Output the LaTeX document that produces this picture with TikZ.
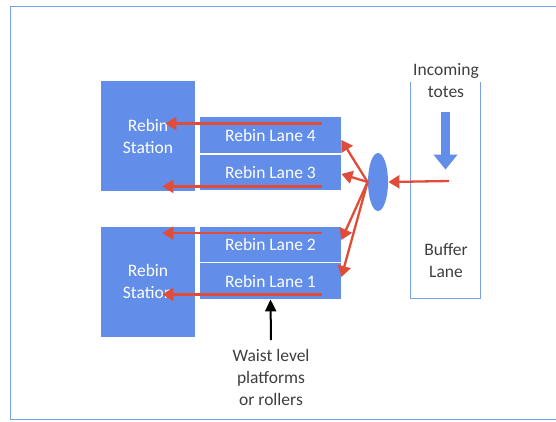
\documentclass[tikz,border=0pt]{standalone}
\usepackage{fontspec}
\setmainfont{Carlito}
\usetikzlibrary{arrows.meta,shapes.geometric}

\begin{document}
\begin{tikzpicture}[x=1pt, y=-1pt, >=Stealth, thick, font=\fontsize{17.5}{22}\selectfont]
        % Colores
        \definecolor{laneblue}{RGB}{98, 141, 232}
        \definecolor{feedred}{RGB}{224, 76, 56}
        \definecolor{frameblue}{RGB}{120, 160, 235}
        \definecolor{notegray}{RGB}{62, 62, 62}

        \tikzset{
            station/.style={fill=laneblue, text=white, minimum width=94pt, minimum height=110pt, align=center, inner sep=0pt},
            lane/.style={fill=laneblue, text=white, minimum width=141pt, minimum height=35pt, inner sep=0pt},
            feed/.style={draw=feedred, line width=2.3pt, -{Triangle[width=13pt,length=11pt]}},
            notetext/.style={text=notegray, align=center}
        }

        \useasboundingbox (0,0) rectangle (556,421);

        % Marco
        \draw[frameblue, line width=1pt] (10,6) rectangle (562,419);

        % Nodos
        \node[station] (stationA) at (148,136) {Rebin\\Station};
        \node[station] (stationB) at (148,281.5) {Rebin\\Station};

        \node[lane, minimum height=36pt] (lane4) at (270.5,135) {Rebin Lane 4};
        \node[lane] (lane3) at (270.5,172.5) {Rebin Lane 3};
        \node[lane] (lane2) at (270.5,244) {Rebin Lane 2};
        \node[lane, minimum height=36pt] (lane1) at (270.5,281) {Rebin Lane 1};

        \node[ellipse, fill=laneblue, minimum width=20pt, minimum height=58pt, inner sep=0pt] (splitter) at (378,182) {};

        \node[minimum width=69pt, minimum height=216pt] (buffer) at (445.5,190) {};
        \node[notetext] (bufferlabel) at (446,261) {Buffer\\Lane};
        \node[notetext] (incoming) at (446,81) {Incoming\\totes};
        \node[notetext] (waist) at (271,377) {Waist level\\platforms\\or rollers};

        % Buffer abierto arriba
        \draw[frameblue, line width=1.2pt] (buffer.north west) -- (buffer.south west) -- (buffer.south east) -- (buffer.north east);

        % Conexiones
        \draw[laneblue, line width=9pt, -{Triangle[width=23pt,length=15pt]}] ([yshift=-30pt]buffer.north) -- ([yshift=-88pt]buffer.north);
        \draw[feed] ([xshift=3.5pt,yshift=9pt]buffer.center) -- (splitter.east);

        \draw[feed] (splitter.west) -- ([yshift=-5pt]lane4.east);
        \draw[feed] (splitter.west) -- ([yshift=-1.5pt]lane3.east);
        \draw[feed] (splitter.west) -- ([yshift=4pt]lane2.east);
        \draw[feed] (splitter.west) -- ([yshift=4pt]lane1.east);

        % Hacia las estaciones
        \draw[feed] ([xshift=-19pt,yshift=-7pt]lane4.north east) -- +(-157,0);
        \draw[feed] ([xshift=-19pt,yshift=4pt]lane3.south east) -- +(-160,0);
        \draw[feed] ([xshift=-19pt,yshift=-7pt]lane2.north east) -- +(-160,0);
        \draw[feed] ([xshift=-19pt,yshift=5pt]lane1.south east) -- +(-160,0);

        \draw[black, line width=2pt, -{Triangle[width=11pt,length=12pt]}] ([yshift=5pt]waist.north) -- (lane1.south);

    \end{tikzpicture}
\end{document}
